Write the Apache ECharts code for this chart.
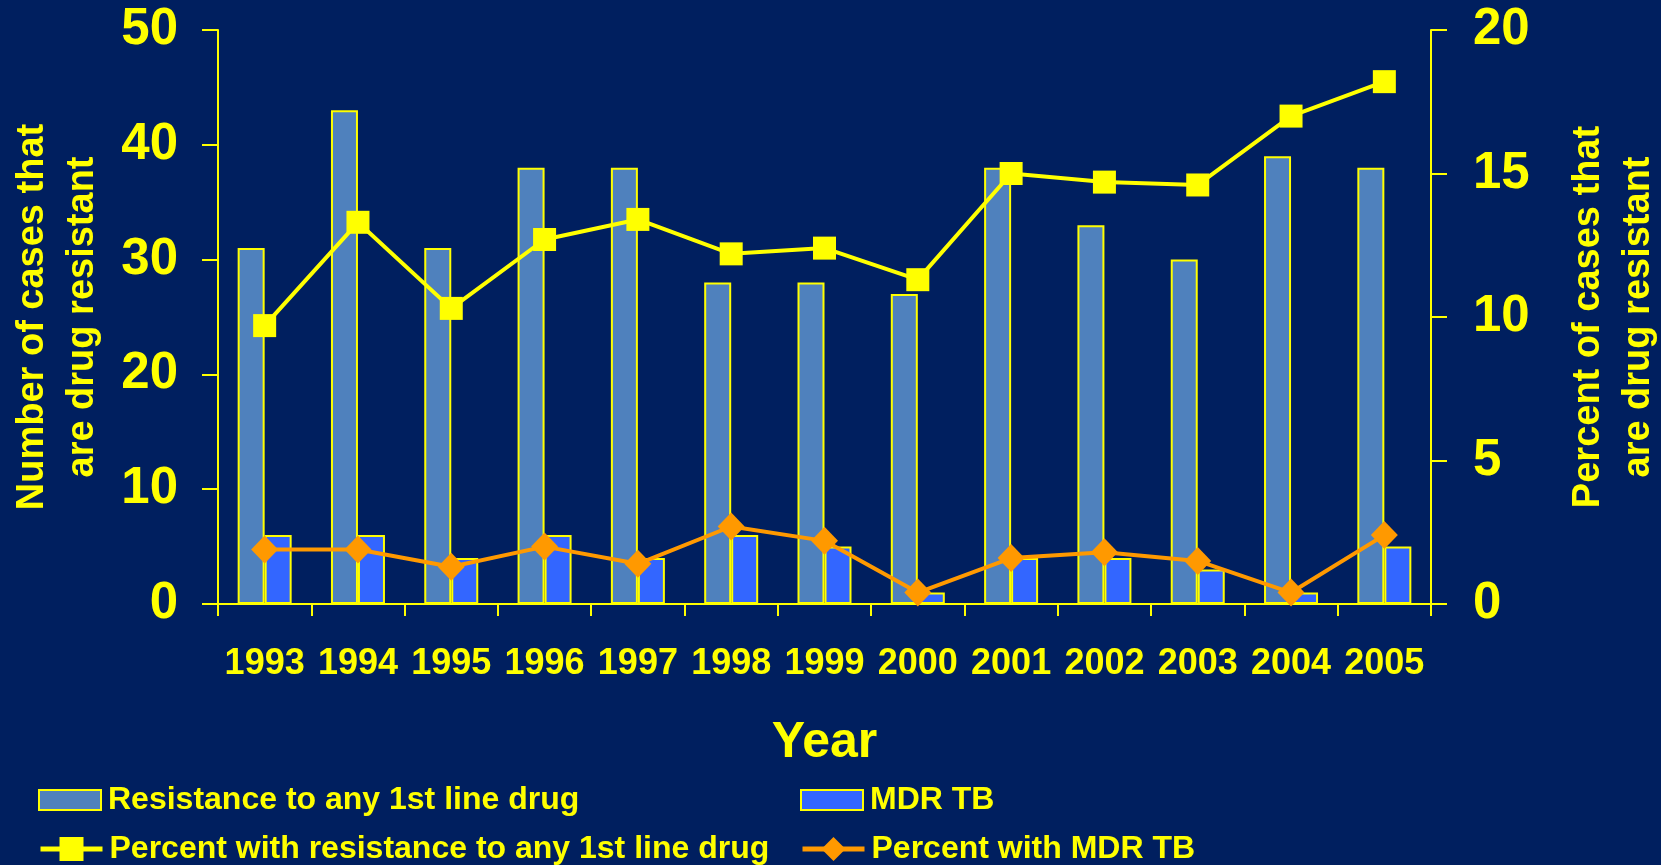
<!DOCTYPE html>
<html>
<head>
<meta charset="utf-8">
<script src="https://cdn.jsdelivr.net/npm/echarts@6/dist/echarts.min.js"></script>
<style>
  html, body { margin: 0; padding: 0; background: #001F5F; }
  #chart { width: 1661px; height: 865px; }
</style>
</head>
<body>
<div id="chart"></div>
<script>
// Drug-resistant TB cases by year
const years = ['1993','1994','1995','1996','1997','1998','1999','2000','2001','2002','2003','2004','2005'];
const anyFirstLine = [31, 43, 31, 38, 38, 28, 28, 27, 38, 33, 30, 39, 38];
const mdrTB = [6, 6, 4, 6, 4, 6, 5, 1, 4, 4, 3, 1, 5];
const pctAnyFirstLine = [9.7, 13.3, 10.3, 12.7, 13.4, 12.2, 12.4, 11.3, 15.0, 14.7, 14.6, 17.0, 18.2];
const pctMDR = [1.9, 1.9, 1.3, 2.0, 1.4, 2.7, 2.2, 0.4, 1.6, 1.8, 1.5, 0.4, 2.4];
const leftTicks = { min: 0, max: 50, interval: 10 };
const rightTicks = { min: 0, max: 20, interval: 5 };

const YELLOW = '#FFFF00';
const FONT = '"Liberation Sans", Arial, sans-serif';

const chart = echarts.init(document.getElementById('chart'), null, { renderer: 'canvas' });

const legendText = { color: YELLOW, fontSize: 32, fontWeight: 'bold', fontFamily: FONT, lineHeight: 34, padding: [0, 0, 0, 2] };
function legendAt(name, left, top, extra) {
  return Object.assign({
    data: [name], left: left, top: top, orient: 'horizontal',
    itemWidth: 62, itemHeight: 20, padding: 0,
    textStyle: legendText, selectedMode: false
  }, extra || {});
}

const option = {
  backgroundColor: '#001F5F',
  animation: false,
  textStyle: { fontFamily: FONT },
  grid: { left: 218, right: 230, top: 30, bottom: 261, containLabel: false, outerBoundsMode: 'none' },
  legend: [
    legendAt('Resistance to any 1st line drug', 38, 783, { icon: 'rect' }),
    legendAt('MDR TB', 800, 783, { icon: 'rect' }),
    legendAt('Percent with resistance to any 1st line drug', 38, 832, { itemHeight: 30, lineStyle: { width: 5 } }),
    legendAt('Percent with MDR TB', 800, 832, { itemHeight: 30, lineStyle: { width: 5 } })
  ],
  xAxis: {
    type: 'category',
    data: years,
    name: 'Year',
    nameLocation: 'middle',
    nameGap: 114,
    nameTextStyle: { color: YELLOW, fontSize: 50, fontWeight: 'bold', fontFamily: FONT, lineHeight: 50 },
    axisLine: { lineStyle: { color: YELLOW, width: 2 } },
    axisTick: { show: true, length: 12, lineStyle: { color: YELLOW, width: 2 } },
    axisLabel: { color: YELLOW, fontSize: 36, fontWeight: 'bold', fontFamily: FONT, lineHeight: 36, margin: 42, interval: 0 },
    splitLine: { show: false }
  },
  yAxis: [
    {
      type: 'value', position: 'left',
      min: leftTicks.min, max: leftTicks.max, interval: leftTicks.interval,
      name: 'Number of cases that\nare drug resistant',
      nameLocation: 'middle', nameRotate: 90, nameGap: 110,
      nameTextStyle: { color: YELLOW, fontSize: 38, fontWeight: 'bold', fontFamily: FONT, lineHeight: 50, align: 'center' },
      axisLine: { show: true, lineStyle: { color: YELLOW, width: 2 } },
      axisTick: { show: true, length: 16, lineStyle: { color: YELLOW, width: 2 } },
      axisLabel: { color: YELLOW, fontSize: 51, fontWeight: 'bold', fontFamily: FONT, margin: 40 },
      splitLine: { show: false }
    },
    {
      type: 'value', position: 'right',
      min: rightTicks.min, max: rightTicks.max, interval: rightTicks.interval,
      name: 'Percent of cases that\nare drug resistant',
      nameLocation: 'middle', nameRotate: 90, nameGap: 133,
      nameTextStyle: { color: YELLOW, fontSize: 38, fontWeight: 'bold', fontFamily: FONT, lineHeight: 50, align: 'center' },
      axisLine: { show: true, lineStyle: { color: YELLOW, width: 2 } },
      axisTick: { show: true, length: 16, lineStyle: { color: YELLOW, width: 2 } },
      axisLabel: { color: YELLOW, fontSize: 51, fontWeight: 'bold', fontFamily: FONT, margin: 42 },
      splitLine: { show: false }
    }
  ],
  series: [
    {
      name: 'Resistance to any 1st line drug',
      type: 'bar', yAxisIndex: 0, data: anyFirstLine,
      barWidth: 27, barGap: '0%',
      itemStyle: { color: '#4F81BD', borderColor: YELLOW, borderWidth: 2 }
    },
    {
      name: 'MDR TB',
      type: 'bar', yAxisIndex: 0, data: mdrTB,
      barWidth: 27, barGap: '0%',
      itemStyle: { color: '#3366FF', borderColor: YELLOW, borderWidth: 2 }
    },
    {
      name: 'Percent with resistance to any 1st line drug',
      type: 'line', yAxisIndex: 1, data: pctAnyFirstLine,
      symbol: 'rect', symbolSize: 23, showAllSymbol: true,
      lineStyle: { color: YELLOW, width: 4 },
      itemStyle: { color: YELLOW },
      z: 3
    },
    {
      name: 'Percent with MDR TB',
      type: 'line', yAxisIndex: 1, data: pctMDR,
      symbol: 'diamond', symbolSize: [27, 28], showAllSymbol: true,
      lineStyle: { color: '#FF9900', width: 4 },
      itemStyle: { color: '#FF9900' },
      z: 4
    }
  ]
};

chart.setOption(option);
</script>
</body>
</html>
